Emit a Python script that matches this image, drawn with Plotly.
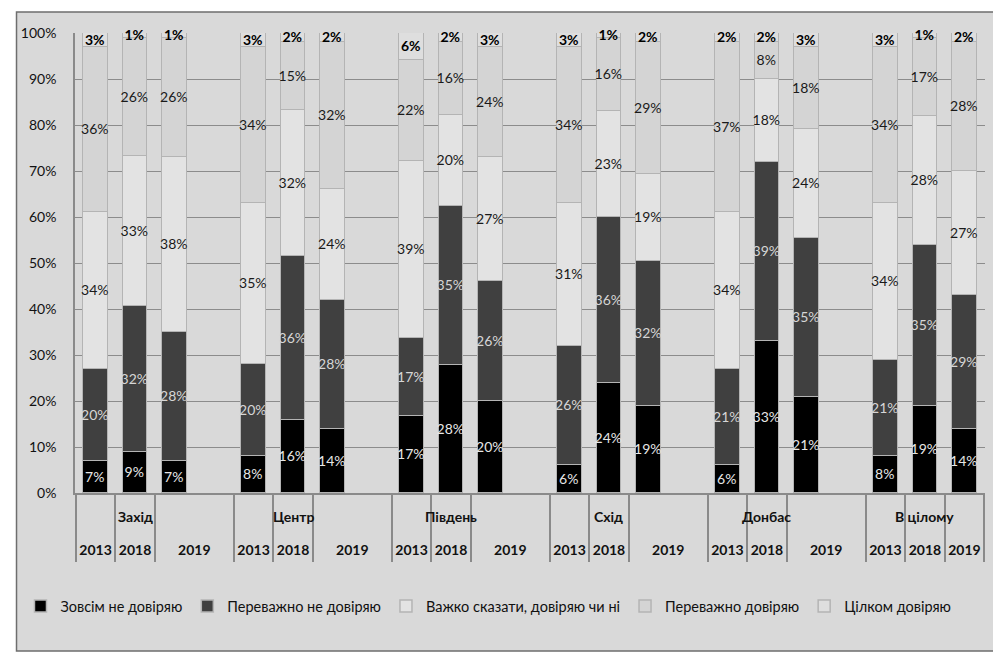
import plotly.graph_objects as go

regions = ["Захід", "Центр", "Південь", "Схід", "Донбас", "В цілому"]
years = ["2013", "2018", "2019"]

series_names = ["Зовсім не довіряю", "Переважно не довіряю",
                "Важко сказати, довіряю чи ні", "Переважно довіряю", "Цілком довіряю"]

zovsim_ne = [7, 9, 7, 8, 16, 14, 17, 28, 20, 6, 24, 19, 6, 33, 21, 8, 19, 14]
perevazhno_ne = [20, 32, 28, 20, 36, 28, 17, 35, 26, 26, 36, 32, 21, 39, 35, 21, 35, 29]
vazhko = [34, 33, 38, 35, 32, 24, 39, 20, 27, 31, 23, 19, 34, 18, 24, 34, 28, 27]
perevazhno_dov = [36, 26, 26, 34, 15, 32, 22, 16, 24, 34, 16, 29, 37, 8, 18, 34, 17, 28]
tsilkom = [3, 1, 1, 3, 2, 2, 6, 2, 3, 3, 1, 2, 2, 2, 3, 3, 1, 2]

y_ticks = [0, 10, 20, 30, 40, 50, 60, 70, 80, 90, 100]

# slot positions: each region takes 3 slots + 1 empty gap slot
xpos = [ri * 4 + yi for ri in range(len(regions)) for yi in range(len(years))]

colors = ["#000000", "#404040", "#e3e3e3", "#d4d4d4", "#dedede"]
text_colors = ["#e6e6e6", "#d6d6d6", "#1a1a1a", "#1a1a1a", "#000000"]
font_fam = "Lato, 'Open Sans', sans-serif"
legend_fam = "'Liberation Sans Narrow', Lato, sans-serif"

fig = go.Figure()
all_vals = [zovsim_ne, perevazhno_ne, vazhko, perevazhno_dov, tsilkom]
for i, (name, vals) in enumerate(zip(series_names, all_vals)):
    bold = (i == 4)
    fig.add_trace(go.Bar(
        x=xpos, y=vals, name=name,
        width=0.62,
        marker=dict(color=colors[i], line=dict(color="#b4b4b4", width=1.5)),
        text=[("<b>%d%%</b>" if bold else "%d%%") % v for v in vals],
        textposition="inside",
        insidetextanchor="middle",
        constraintext="none",
        textangle=0,
        cliponaxis=False,
        insidetextfont=dict(color=text_colors[i], size=14, family=font_fam),
        hoverinfo="skip",
    ))

# year tick labels: 2019 is centered in its wide cell (except the last group)
tick_vals = []
tick_text = []
for ri in range(len(regions)):
    for yi, yr in enumerate(years):
        pos = ri * 4 + yi
        if yi == 2 and ri < len(regions) - 1:
            pos += 0.5
        tick_vals.append(pos)
        tick_text.append("<b>%s</b>" % yr)

# divider lines between category cells
dividers = []
for ri in range(len(regions)):
    base = ri * 4
    dividers += [base - 0.5, base + 0.5, base + 1.5]
dividers.append(22.5)

fig.update_layout(
    width=1001, height=654,
    margin=dict(l=59, r=24, t=25, b=169),
    paper_bgcolor="white",
    plot_bgcolor="#d9d9d9",
    barmode="stack",
    barnorm="percent",
    bargap=0,
    showlegend=True,
    legend=dict(orientation="h", x=(12 - 67) / 918, xanchor="left", y=(493 - 606) / 460,
                yanchor="middle",
                traceorder="normal", font=dict(size=14.5, family=legend_fam, color="#111"),
                bgcolor="rgba(0,0,0,0)", itemwidth=30),
    font=dict(family=font_fam, color="#111"),
)

fig.update_xaxes(
    range=[-0.52, 22.52],
    tickmode="array", tickvals=tick_vals, ticktext=tick_text,
    ticks="", ticklabelstandoff=43,
    tickfont=dict(size=14, family=font_fam, color="#111"),
    showgrid=False, zeroline=False,
    showline=True, linecolor="#8a8a8a", linewidth=1.5,
    minor=dict(tickmode="array", tickvals=dividers, ticks="outside",
               ticklen=67, tickcolor="#8a8a8a", tickwidth=1.5, showgrid=False),
)
fig.update_yaxes(
    range=[0, 100],
    tickmode="array", tickvals=y_ticks, ticktext=["%d%%" % v for v in y_ticks],
    tickfont=dict(size=14, family=font_fam, color="#111"),
    ticklabelstandoff=14,
    showgrid=True, gridcolor="#8c8c8c", gridwidth=1,
    zeroline=False,
    showline=True, linecolor="#8a8a8a", linewidth=1.5,
)

# outer chart area background with border
fig.add_shape(type="rect", xref="paper", yref="paper",
              x0=(8 - 67) / 918, x1=(1000 - 67) / 918,
              y0=(493 - 651) / 460, y1=(493 - 12) / 460,
              fillcolor="#d9d9d9", line=dict(color="#6e6e6e", width=1.5), layer="below")

# region group labels
for ri, reg in enumerate(regions):
    fig.add_annotation(x=ri * 4 + 1, xref="x", y=(493 - 517) / 460, yref="paper",
                       yanchor="middle",
                       text="<b>%s</b>" % reg, showarrow=False,
                       font=dict(size=14, family=font_fam, color="#111"))

fig.write_html("out.html")
